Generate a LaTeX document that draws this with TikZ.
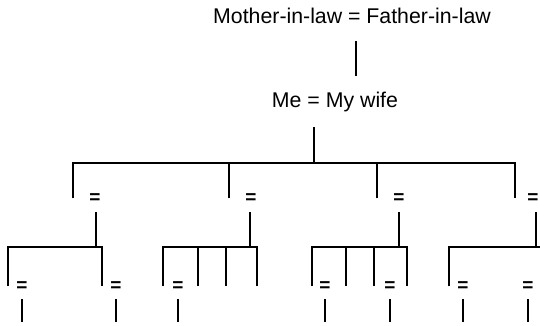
\documentclass[tikz,border=0pt]{standalone}
\usepackage{fontspec}
\setmainfont{Liberation Sans}
\begin{document}
\begin{tikzpicture}[x=1pt,y=-1pt,
  line/.style={line width=2.8pt, line join=miter},
  short/.style={line width=2.2pt},
  label/.style={font=\fontsize{21.3}{24}\selectfont, inner sep=0pt, anchor=base},
  eq/.style={font=\bfseries\fontsize{19}{22}\selectfont, inner sep=0pt}]
\useasboundingbox (0,0) rectangle (540,326);

% in-laws and the couple below them
\node[label] (parents) at (352,24) {Mother-in-law = Father-in-law};
\node[label] (us) at (335,107) {Me = My wife};
\coordinate (p-top) at (356,41);
\coordinate (p-bot) at (356,76);
\draw[line] (p-top) -- (p-bot);

% children of the couple
\coordinate (us-stem) at (314,127);
\coordinate (bar0) at (314,163);
\coordinate (c1) at (73,198);
\coordinate (c2) at (229,198);
\coordinate (c3) at (377,198);
\coordinate (c4) at (515,198);
\draw[line] (us-stem) -- (bar0);
\draw[line] (c1) -- (c1 |- bar0) -- (c4 |- bar0) -- (c4);
\draw[line] (c2) -- (c2 |- bar0);
\draw[line] (c3) -- (c3 |- bar0);

% marriages of the children
\node[eq] (e1) at (95,199) {=};
\node[eq] (e2) at (251,199) {=};
\node[eq] (e3) at (399,199) {=};
\node[eq] (e4) at (533,199) {=};

% family 1
\coordinate (s1) at (96,212);
\coordinate (b1) at (96,247);
\coordinate (k11) at (8,286);
\coordinate (k12) at (102,286);
\draw[line] (s1) -- (b1);
\draw[line] (k11) -- (k11 |- b1) -- (k12 |- b1) -- (k12);

% family 2
\coordinate (s2) at (250,212);
\coordinate (b2) at (250,247);
\coordinate (k21) at (163,286);
\coordinate (k22) at (198,286);
\coordinate (k23) at (226,286);
\coordinate (k24) at (257,286);
\draw[line] (s2) -- (b2);
\draw[line] (k21) -- (k21 |- b2) -- (k24 |- b2) -- (k24);
\draw[line] (k22) -- (k22 |- b2);
\draw[line] (k23) -- (k23 |- b2);

% family 3
\coordinate (s3) at (399,212);
\coordinate (b3) at (399,247);
\coordinate (k31) at (312,286);
\coordinate (k32) at (346,286);
\coordinate (k33) at (374,286);
\coordinate (k34) at (407,286);
\draw[line] (s3) -- (b3);
\draw[line] (k31) -- (k31 |- b3) -- (k34 |- b3) -- (k34);
\draw[line] (k32) -- (k32 |- b3);
\draw[line] (k33) -- (k33 |- b3);

% family 4
\coordinate (s4) at (536,212);
\coordinate (b4) at (536,247);
\coordinate (k41) at (449,286);
\coordinate (k4r) at (541,247);
\draw[line] (s4) -- (b4);
\draw[line] (k41) -- (k41 |- b4) -- (k4r);

% grandchildren's marriages and their descendants
\foreach \n/\x in {g1/22, g2/116, g3/178, g4/325, g5/390, g6/463, g7/528} {
  \node[eq] (\n) at (\x,287) {=};
  \coordinate (\n-a) at (\x,299);
  \coordinate (\n-b) at (\x,322);
  \draw[short] (\n-a) -- (\n-b);
}
\end{tikzpicture}
\end{document}
